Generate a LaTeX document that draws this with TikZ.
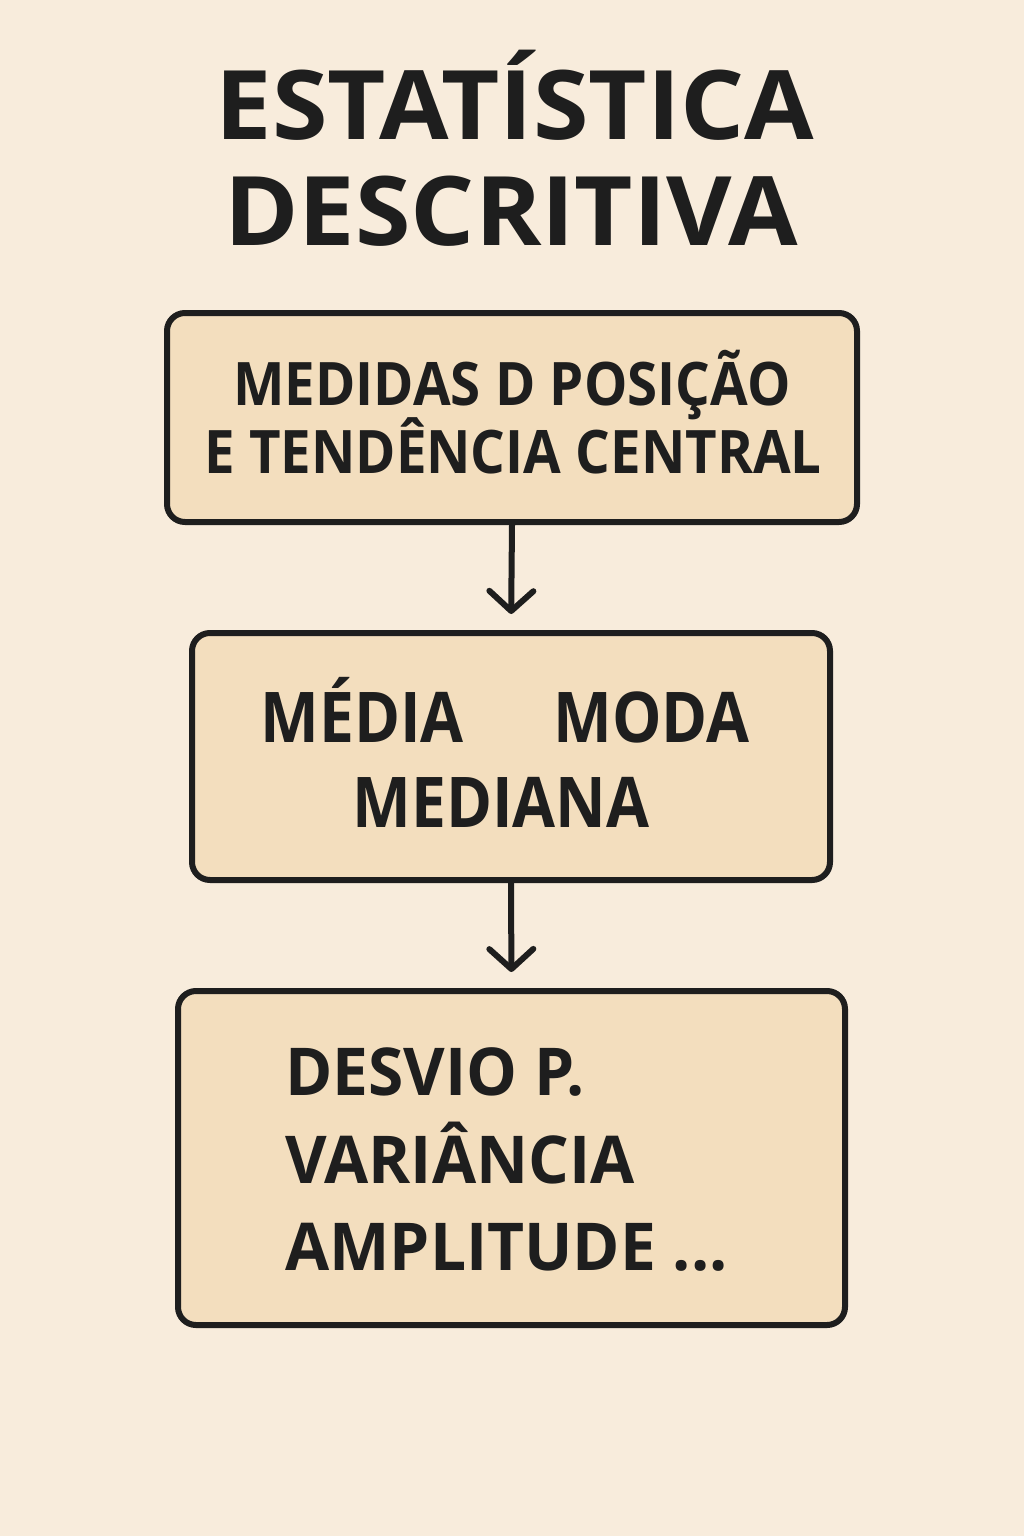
\documentclass[tikz,border=0pt]{standalone}
\usepackage{fontspec}
\setmainfont{Open Sans}
\newfontfamily\fonttitolo[FakeStretch=1.05]{Open Sans}
\newfontfamily\fontuno[FakeStretch=0.91]{Open Sans}
\newfontfamily\fontdue[FakeStretch=0.89]{Open Sans}
\newfontfamily\fonttre[FakeStretch=0.97]{Open Sans}
\usetikzlibrary{arrows.meta}

\definecolor{sfondo}{HTML}{F8ECDC}
\definecolor{riempi}{HTML}{F3DEBE}
\definecolor{tratto}{HTML}{1E1E1E}

\tikzset{
    scatola/.style={draw=tratto, fill=riempi, line width=3pt, rounded corners=9pt, inner sep=0pt},
    freccia/.style={draw=tratto, line width=3pt, line cap=round, shorten >=8pt,
        -{Straight Barb[length=10pt, width=22pt, line cap=round, line join=round]}},
    testo/.style={text=tratto, anchor=base, inner sep=0pt},
    titolo/.style={testo, font=\fonttitolo\fontsize{48}{50}\selectfont\bfseries},
    riga1/.style={testo, font=\fontuno\fontsize{30}{32}\selectfont\bfseries},
    riga2/.style={testo, font=\fontdue\fontsize{35}{37}\selectfont\bfseries},
    riga3/.style={testo, font=\fonttre\fontsize{33}{35}\selectfont\bfseries, anchor=base west}
}

\begin{document}
\begin{tikzpicture}[x=0.5pt, y=-0.5pt]

% Sfondo e dimensioni
\fill[sfondo] (0,0) rectangle (1024,1536);
\useasboundingbox (0,0) rectangle (1024,1536);

% Titolo
\node[titolo] (tit1) at (515,140) {ESTATÍSTICA};
\node[titolo] (tit2) at (511,245) {DESCRITIVA};

% Scatole
\node[scatola, minimum width=345pt, minimum height=104.5pt] (pos) at (512,417.5) {};
\node[scatola, minimum width=319pt, minimum height=123.5pt] (med) at (511,756.5) {};
\node[scatola, minimum width=333.5pt, minimum height=167pt] (disp) at (511.5,1158) {};

% Testi della prima scatola
\node[riga1] (pos1) at (512,405) {MEDIDAS D POSIÇÃO};
\node[riga1] (pos2) at (513,473) {E TENDÊNCIA CENTRAL};

% Testi della seconda scatola
\node[riga2, anchor=base west] (media) at (260,742) {MÉDIA};
\node[riga2, anchor=base east] (moda) at (750,742) {MODA};
\node[riga2] (mediana) at (501,827) {MEDIANA};

% Testi della terza scatola
\node[riga3] (desvio) at (285,1095) {DESVIO P.};
\node[riga3] (var) at (285,1183) {VARIÂNCIA};
\node[riga3] (ampl) at (285,1270) {AMPLITUDE ...};

% Frecce
\draw[freccia] (pos.south) -- (med.north);
\draw[freccia] (med.south) -- (disp.north);

\end{tikzpicture}
\end{document}
